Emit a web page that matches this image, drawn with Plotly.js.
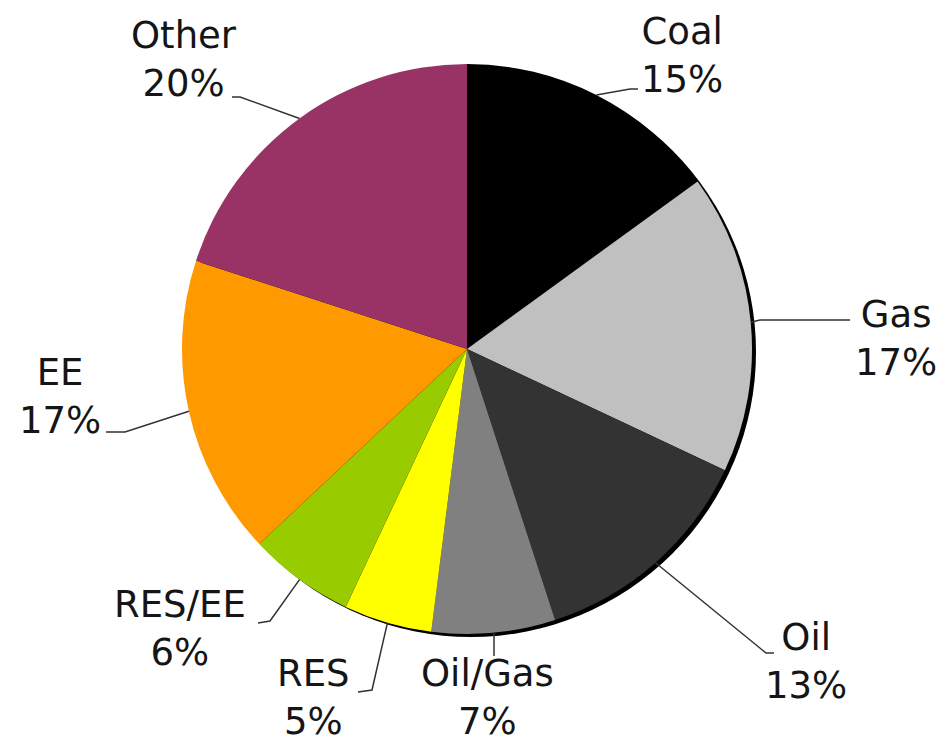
<!DOCTYPE html>
<html>
<head>
<meta charset="utf-8">
<script src="https://cdn.plot.ly/plotly-3.0.1.min.js"></script>
<style>html,body{margin:0;padding:0;background:#fff;}#chart{width:946px;height:748px;}</style>
</head>
<body>
<div id="chart"></div>
<script>
// ---- data ----
var categories = ["Coal", "Gas", "Oil", "Oil/Gas", "RES", "RES/EE", "EE", "Other"];
var shares = [15, 17, 13, 7, 5, 6, 17, 20];
var colors = ["#000000", "#c0c0c0", "#333333", "#808080", "#ffff00", "#99cc00", "#ff9900", "#993366"];

// ---- layout config (pixels) ----
var W = 946, H = 748;
var CX = 467, CY = 349, R = 285;
// label centre positions and leader elbows/ends (pixels)
var labelPos = [[682, 56], [896, 338], [806, 661], [488, 697], [313, 697], [180, 628], [60, 396], [184, 60]];
var leaderElbow = [[630, 89], [760, 320], [766, 653], [494, 636], [372, 690], [270, 621], [125, 432], [240, 97]];
var leaderEnd = [[638, 89], [850, 320], [774, 653], [494, 656], [358, 692], [258, 623], [106, 432], [232, 97]];

function px(x) { return x / W; }
function py(y) { return 1 - y / H; }

var total = shares.reduce(function (a, b) { return a + b; }, 0);
var cum = 0;
var shapes = [], annotations = [];
for (var i = 0; i < categories.length; i++) {
  var mid = (cum + shares[i] / 2) / total * 2 * Math.PI;
  cum += shares[i];
  var ex = CX + R * Math.sin(mid), ey = CY - R * Math.cos(mid);
  var el = leaderElbow[i], en = leaderEnd[i];
  shapes.push({
    type: "path", xref: "paper", yref: "paper",
    path: "M" + px(ex) + "," + py(ey) + " L" + px(el[0]) + "," + py(el[1]) + " L" + px(en[0]) + "," + py(en[1]),
    line: { color: "#333333", width: 1.5 }
  });
  annotations.push({
    xref: "paper", yref: "paper", x: px(labelPos[i][0]), y: py(labelPos[i][1]),
    xanchor: "center", yanchor: "middle", showarrow: false, align: "center",
    text: categories[i] + "<br>" + Math.round(shares[i] / total * 100) + "%",
    font: { family: "DejaVu Sans, Verdana, sans-serif", size: 37, color: "#151515" }
  });
}

var dom = { x: [px(CX - R), px(CX + R)], y: [py(CY + R), py(CY - R)] };
var shadowDom = { x: [px(CX - R + 4), px(CX + R + 4)], y: [py(CY + R + 3), py(CY - R + 3)] };

var traces = [
  {
    type: "pie", values: [total], labels: ["shadow"], domain: shadowDom,
    marker: { colors: ["#000000"], line: { width: 0 } },
    textinfo: "none", hoverinfo: "skip", sort: false, showlegend: false
  },
  {
    type: "pie", values: shares, labels: categories, domain: dom,
    marker: { colors: colors, line: { width: 0 } },
    textinfo: "none", sort: false, direction: "clockwise", rotation: 0,
    showlegend: false
  }
];

var layout = {
  width: W, height: H,
  margin: { l: 0, r: 0, t: 0, b: 0 },
  paper_bgcolor: "#ffffff",
  showlegend: false,
  shapes: shapes,
  annotations: annotations
};

Plotly.newPlot("chart", traces, layout, { displayModeBar: false, staticPlot: true });
</script>
</body>
</html>
